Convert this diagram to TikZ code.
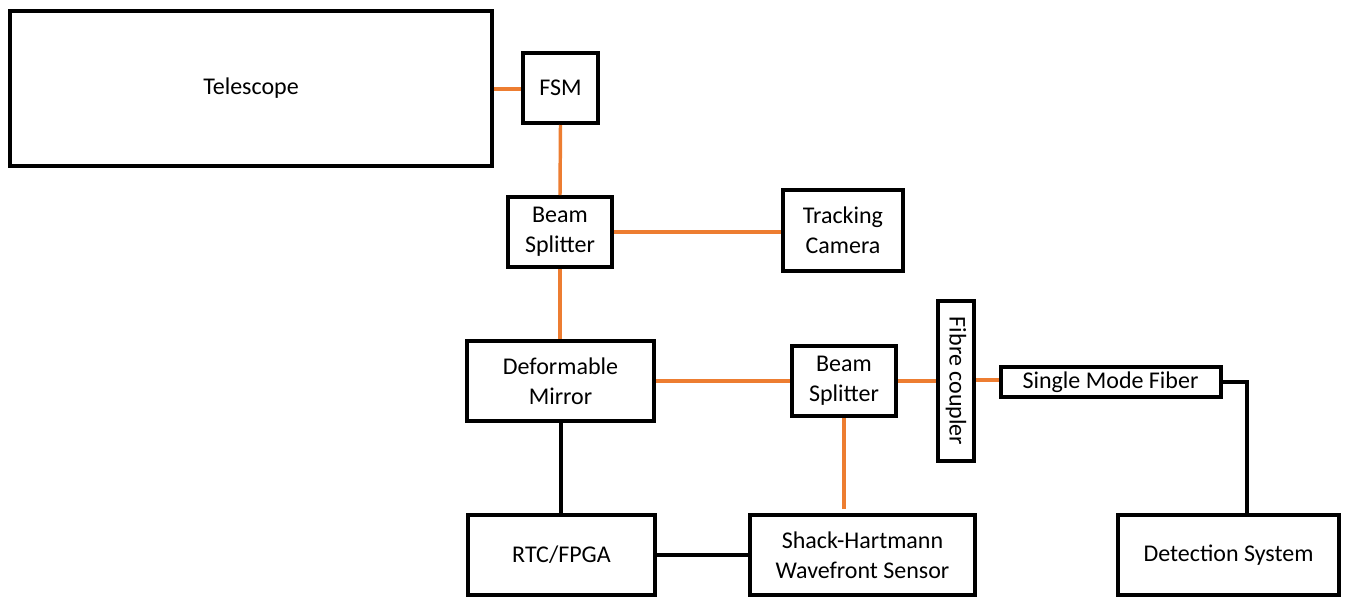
\documentclass[tikz,border=0pt]{standalone}
\usepackage{fontspec}
\setmainfont{Carlito}
\usetikzlibrary{positioning}
\definecolor{beamOrange}{HTML}{ED7D31}

\begin{document}
\begin{tikzpicture}[x=0.75pt, y=-0.75pt,
  block/.style={draw=black, line width=3pt, fill=white, align=center, inner sep=0pt, font=\fontsize{18}{22.5}\selectfont},
  beam/.style={draw=beamOrange, line width=2.6pt},
  signal/.style={draw=black, line width=3pt},
]
\useasboundingbox (0,0) rectangle (1347,597);

% optical path
\node[block, minimum width=361.5pt, minimum height=116pt] (telescope) at (251,88.5) {Telescope};
\node[block, minimum width=56pt, minimum height=52.5pt] (fsm) at (560.5,88) {FSM};
\node[block, minimum width=78pt, minimum height=52.5pt] (split1) at (560,232) {Beam\\Splitter};
\node[block, minimum width=90pt, minimum height=61pt] (tracking) at (843,230.5) {Tracking\\Camera};
\node[block, minimum width=140pt, minimum height=60pt] (dm) at (560.5,381) {Deformable\\Mirror};
\node[block, minimum width=78pt, minimum height=52.5pt] (split2) at (844,381) {Beam\\Splitter};
\node[block, rotate=-90, minimum width=120pt, minimum height=27pt] (coupler) at (956,381) {Fibre coupler};
\node[block, minimum width=165pt, minimum height=23pt] (smf) at (1110.5,382) {Single Mode Fiber};

% control loop and detection
\node[block, minimum width=140pt, minimum height=60pt] (rtc) at (561.5,555) {RTC/FPGA};
\node[block, minimum width=169pt, minimum height=60pt] (shack) at (862.5,555) {Shack-Hartmann\\Wavefront Sensor};
\node[block, minimum width=166pt, minimum height=60pt] (detect) at (1228.5,555) {Detection System};

\coordinate (fiberbend) at (1247,382);

% light (orange) and signal (black) links
\draw[beam] (telescope.east |- 0,89) -- (fsm.west |- 0,89);
\draw[beam] (fsm.south) -- (split1.north);
\draw[beam] (split1.east) -- (split1.east -| tracking.west);
\draw[beam] (split1.south) -- (split1.south |- dm.north);
\draw[beam] (dm.east) -- (split2.west);
\draw[beam] (split2.east) -- (split2.east -| coupler.south);
\draw[beam] (coupler.north |- 0,380) -- (smf.west |- 0,380);
\draw[beam, shorten >=3pt] (split2.south) -- (split2.south |- shack.north);

\draw[signal] (dm.south) -- (dm.south |- rtc.north);
\draw[signal] (rtc.east) -- (shack.west);
\draw[signal] (smf.east) -- (fiberbend) -- (fiberbend |- detect.north);
\end{tikzpicture}
\end{document}
